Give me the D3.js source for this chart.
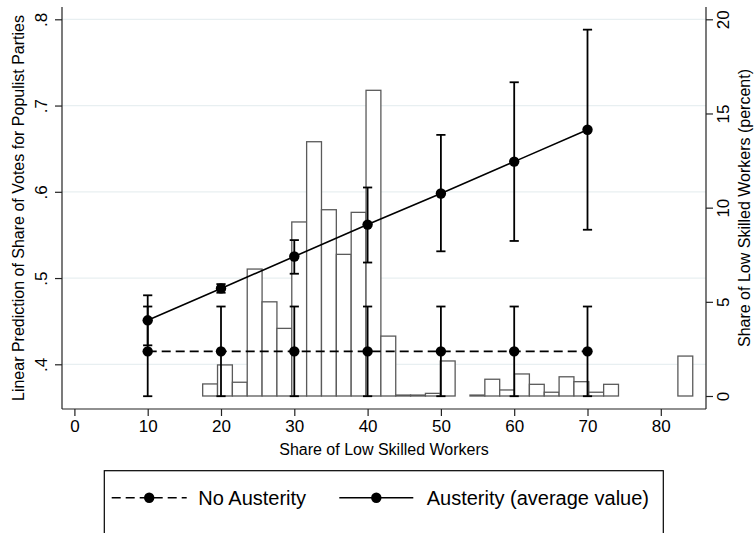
<!DOCTYPE html>
<html>
<head>
<meta charset="utf-8">
<script src="https://cdn.jsdelivr.net/npm/d3@7"></script>
<style>
  html, body { margin: 0; padding: 0; background: #fff; }
  svg { display: block; font-family: "Liberation Sans", Arial, sans-serif; }
</style>
</head>
<body>
<svg id="chart" width="755" height="533"></svg>
<script>
// ---- data ----
const xTicks = [0, 10, 20, 30, 40, 50, 60, 70, 80];
const leftTicks = [0.4, 0.5, 0.6, 0.7, 0.8];
const leftTickLabels = [".4", ".5", ".6", ".7", ".8"];
const rightTicks = [0, 5, 10, 15, 20];

// predicted margins at each value of the low-skilled share
const atValues = [10, 20, 30, 40, 50, 60, 70];
const austerityFit = [0.451, 0.488, 0.525, 0.562, 0.598, 0.635, 0.672];
const austerityLow = [0.422, 0.483, 0.505, 0.518, 0.531, 0.543, 0.556];
const austerityHigh = [0.480, 0.493, 0.544, 0.605, 0.666, 0.727, 0.788];
const noAusterityFit = [0.415, 0.415, 0.415, 0.415, 0.415, 0.415, 0.415];
const noAusterityLow = [0.363, 0.363, 0.363, 0.363, 0.363, 0.363, 0.363];
const noAusterityHigh = [0.467, 0.467, 0.467, 0.467, 0.467, 0.467, 0.467];

// histogram of the low-skilled share (percent of observations per bin)
const histStart = 17.5;
const histBinWidth = 2.026;
const histPercent = [0.64, 1.65, 0.73, 6.74, 5.0, 3.59, 9.24, 13.5, 9.89, 7.52,
                     9.75, 16.23, 3.18, 0.05, 0.05, 0.14, 1.86, 0, 0.05, 0.89,
                     0.32, 1.17, 0.62, 0.2, 1.02, 0.76, 0.2, 0.62, 0, 0,
                     0, 0, 2.12];

const legendLabels = ["No Austerity", "Austerity (average value)"];

// ---- layout ----
const svg = d3.select("#chart");
const plot = { left: 62, right: 706, top: 7, bottom: 409 };

const x = d3.scaleLinear().domain([0, 80]).range([74.4, 660.8]);
const yL = d3.scaleLinear().domain([0.4, 0.8]).range([364.3, 19.3]);
const yR = d3.scaleLinear().domain([0, 20]).range([396, 19.3]);

const axisColor = "#222";
const gridColor = "#e8eff1";
const fontFamily = "Liberation Sans, Arial, sans-serif";

// gridlines (left axis)
svg.append("g").selectAll("line").data(leftTicks).join("line")
  .attr("x1", plot.left).attr("x2", plot.right)
  .attr("y1", d => yL(d)).attr("y2", d => yL(d))
  .attr("stroke", gridColor).attr("stroke-width", 1.2);

// histogram bars
const bins = histPercent.map((p, i) => ({
  x0: histStart + i * histBinWidth,
  x1: histStart + (i + 1) * histBinWidth,
  p
}));
svg.append("g").selectAll("rect").data(bins.filter(b => b.p > 0)).join("rect")
  .attr("x", d => x(d.x0))
  .attr("width", d => x(d.x1) - x(d.x0))
  .attr("y", d => yR(d.p))
  .attr("height", d => yR(0) - yR(d.p))
  .attr("fill", "#fff")
  .attr("stroke", "#5a5a5a")
  .attr("stroke-width", 1.3);

// one predicted-margin series: CIs with caps, connecting line, markers
function series(fit, low, high, dashed) {
  const g = svg.append("g");
  const pts = atValues.map((v, i) => ({ v, fit: fit[i], low: low[i], high: high[i] }));
  const capHalf = 4.6;
  pts.forEach(d => {
    g.append("line").attr("x1", x(d.v)).attr("x2", x(d.v))
      .attr("y1", yL(d.low)).attr("y2", yL(d.high))
      .attr("stroke", "#000").attr("stroke-width", 1.8);
    [d.low, d.high].forEach(c => {
      g.append("line").attr("x1", x(d.v) - capHalf).attr("x2", x(d.v) + capHalf)
        .attr("y1", yL(c)).attr("y2", yL(c))
        .attr("stroke", "#000").attr("stroke-width", 1.8);
    });
  });
  g.append("path").datum(pts)
    .attr("d", d3.line().x(d => x(d.v)).y(d => yL(d.fit)))
    .attr("fill", "none").attr("stroke", "#000").attr("stroke-width", 1.6)
    .attr("stroke-dasharray", dashed ? "9,5" : null);
  g.selectAll("circle").data(pts).join("circle")
    .attr("cx", d => x(d.v)).attr("cy", d => yL(d.fit)).attr("r", 5.2)
    .attr("fill", "#000");
}
series(noAusterityFit, noAusterityLow, noAusterityHigh, true);
series(austerityFit, austerityLow, austerityHigh, false);

// axis lines
const axes = svg.append("g").attr("stroke", axisColor).attr("stroke-width", 1.2);
axes.append("line").attr("x1", plot.left).attr("x2", plot.left).attr("y1", plot.top).attr("y2", plot.bottom);
axes.append("line").attr("x1", plot.right).attr("x2", plot.right).attr("y1", plot.top).attr("y2", plot.bottom);
axes.append("line").attr("x1", plot.left).attr("x2", plot.right).attr("y1", plot.bottom).attr("y2", plot.bottom);

// bottom axis
const xAxis = d3.axisBottom(x).tickValues(xTicks).tickSize(7).tickPadding(4).tickSizeOuter(0);
const gx = svg.append("g").attr("transform", `translate(0,${plot.bottom})`).call(xAxis);
gx.select(".domain").remove();
gx.selectAll(".tick line").attr("stroke", axisColor).attr("stroke-width", 1.2);
gx.selectAll(".tick text").attr("font-size", 17).attr("fill", "#000")
  .attr("font-family", fontFamily);

// left axis (labels rotated to read upward)
const yAxisL = d3.axisLeft(yL).tickValues(leftTicks)
  .tickFormat((d, i) => leftTickLabels[i]).tickSize(7).tickSizeOuter(0);
const gyl = svg.append("g").attr("transform", `translate(${plot.left},0)`).call(yAxisL);
gyl.select(".domain").remove();
gyl.selectAll(".tick line").attr("stroke", axisColor).attr("stroke-width", 1.2);
gyl.selectAll(".tick text")
  .attr("x", null).attr("dy", null)
  .attr("text-anchor", "middle")
  .attr("dominant-baseline", "central")
  .attr("transform", "translate(-21,0) rotate(-90)")
  .attr("font-size", 17).attr("fill", "#000")
  .attr("font-family", fontFamily);

// right axis (labels rotated to read upward)
const yAxisR = d3.axisRight(yR).tickValues(rightTicks).tickSize(7).tickSizeOuter(0);
const gyr = svg.append("g").attr("transform", `translate(${plot.right},0)`).call(yAxisR);
gyr.select(".domain").remove();
gyr.selectAll(".tick line").attr("stroke", axisColor).attr("stroke-width", 1.2);
gyr.selectAll(".tick text")
  .attr("x", null).attr("dy", null)
  .attr("text-anchor", "middle")
  .attr("dominant-baseline", "central")
  .attr("transform", "translate(17,0) rotate(-90)")
  .attr("font-size", 17).attr("fill", "#000")
  .attr("font-family", fontFamily);

// axis titles
const midY = (plot.top + plot.bottom) / 2;
svg.append("text").attr("transform", `translate(18,${midY}) rotate(-90)`)
  .attr("text-anchor", "middle").attr("dominant-baseline", "central")
  .attr("font-size", 16).text("Linear Prediction of Share of Votes for Populist Parties");
svg.append("text").attr("transform", `translate(744,${midY}) rotate(-90)`)
  .attr("text-anchor", "middle").attr("dominant-baseline", "central")
  .attr("font-size", 16).text("Share of Low Skilled Workers (percent)");
svg.append("text").attr("x", (plot.left + plot.right) / 2).attr("y", 449)
  .attr("text-anchor", "middle").attr("dominant-baseline", "central")
  .attr("font-size", 16).text("Share of Low Skilled Workers");

// legend
const lg = svg.append("g");
lg.append("rect").attr("x", 104.3).attr("y", 470.7).attr("width", 559).attr("height", 80)
  .attr("fill", "#fff").attr("stroke", "#000").attr("stroke-width", 1.2);
const keyY = 497.7;
const keys = [
  { x0: 111.7, x1: 186.7, dash: "9,5", tx: 198.3 },
  { x0: 339.3, x1: 413.3, dash: null, tx: 426.7 }
];
keys.forEach((k, i) => {
  lg.append("line").attr("x1", k.x0).attr("x2", k.x1).attr("y1", keyY).attr("y2", keyY)
    .attr("stroke", "#000").attr("stroke-width", 1.6).attr("stroke-dasharray", k.dash);
  lg.append("circle").attr("cx", (k.x0 + k.x1) / 2).attr("cy", keyY).attr("r", 5.2).attr("fill", "#000");
  lg.append("text").attr("x", k.tx).attr("y", keyY).attr("dominant-baseline", "central")
    .attr("font-size", 20).text(legendLabels[i]);
});
</script>
</body>
</html>
